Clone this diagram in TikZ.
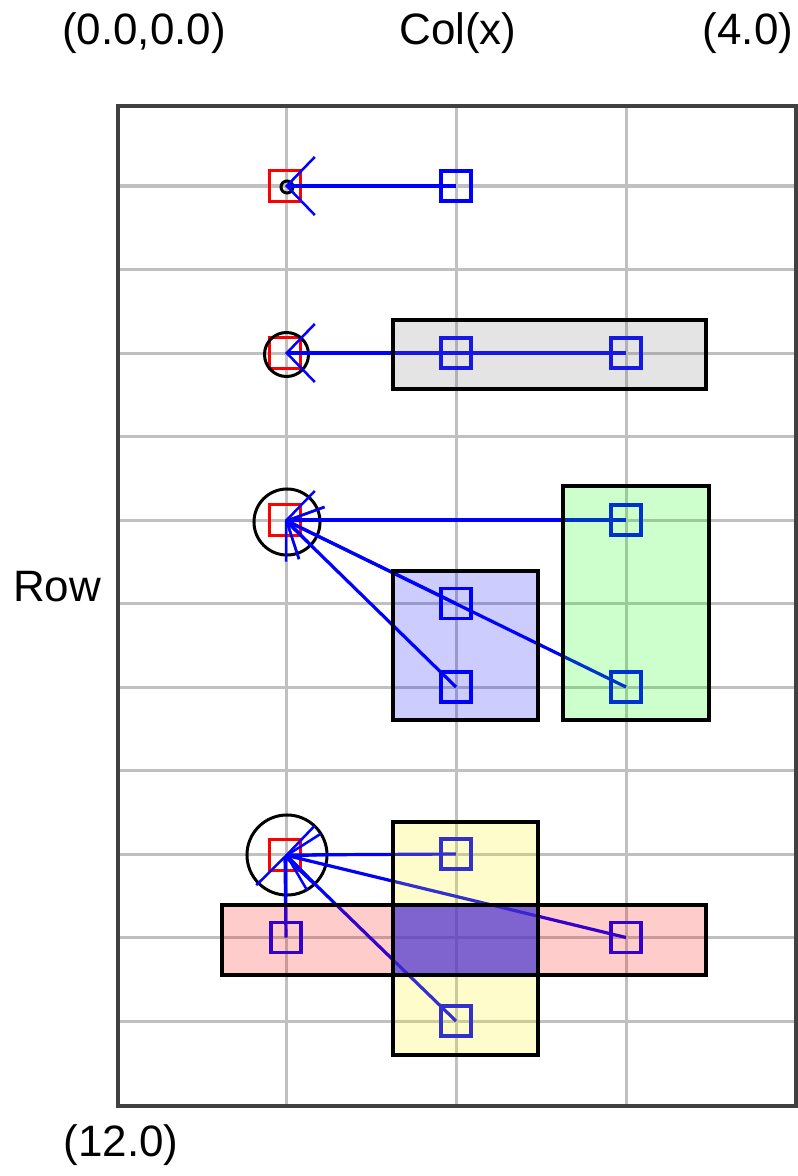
\documentclass[tikz,border=0pt]{standalone}
\usepackage{fontspec}
\setmainfont{Liberation Sans}
\usetikzlibrary{arrows.meta}
\definecolor{gridc}{RGB}{192,192,192}
\definecolor{framec}{RGB}{64,64,64}
\definecolor{grayfill}{RGB}{120,120,120}
\definecolor{purplefill}{RGB}{43,34,238}
\begin{document}
\begin{tikzpicture}[x=0.01cm,y=-0.01cm,
  gridline/.style={draw=gridc, line width=0.03cm},
  frameline/.style={draw=framec, line width=0.04cm},
  bsq/.style={draw=blue, line width=0.033cm, minimum size=0.30cm, inner sep=0pt, shape=rectangle},
  rsq/.style={draw=red, line width=0.033cm, minimum size=0.31cm, inner sep=0pt, shape=rectangle},
  link/.style={draw=blue, line width=0.032cm, -{Straight Barb[length=0.28cm,width=0.58cm,line width=0.025cm]}},
  rng/.style={draw=black, line width=0.03cm, shape=circle, inner sep=0pt, minimum size=#1},
  area/.style={fill=#1, fill opacity=0.2},
  areaborder/.style={draw=black, line width=0.042cm},
  lbl/.style={inner sep=0pt, font=\fontsize{12.5}{15}\selectfont}]
\useasboundingbox (0,0) rectangle (797,1176);
\fill[white] (0,0) rectangle (797,1176);
% grid
\foreach \x in {286,456,626} \draw[gridline] (\x,106) -- (\x,1106);
\foreach \k in {0,...,10} \draw[gridline] (118,186+83.5*\k) -- (796,186+83.5*\k);
\draw[frameline] (118,106) rectangle (796,1106);
% labels
\node[lbl] (t1) at (144,33) {(0.0,0.0)};
\node[lbl] (t2) at (458,33) {Col(x)};
\node[lbl] (t3) at (748,33) {(4.0)};
\node[lbl] (t4) at (57,587) {Row};
\node[lbl] (t5) at (121,1145) {(12.0)};
% red squares (targets)
\node[rsq] (r1) at (285,186) {};
\node[rsq] (r2) at (285,353) {};
\node[rsq] (r3) at (285,520) {};
\node[rsq] (r4) at (285,855) {};
% range circles
\node[rng=0.12cm] (c1) at (287,187) {};
\node[rng=0.44cm] (c2) at (286.5,354.5) {};
\node[rng=0.66cm] (c3) at (287,522) {};
\node[rng=0.80cm] (c4) at (287,855) {};
% blue squares
\node[bsq] (b11) at (456,186) {};
\node[bsq] (b21) at (456,353) {};
\node[bsq] (b22) at (626,353) {};
\node[bsq] (b31) at (626,520) {};
\node[bsq] (b32) at (456,603.5) {};
\node[bsq] (b33) at (456,687) {};
\node[bsq] (b34) at (626,687) {};
\node[bsq] (b41) at (456,854) {};
\node[bsq] (b42) at (626,937.5) {};
\node[bsq] (b43) at (456,1021) {};
\node[bsq] (b44) at (286,937.5) {};
% links
\draw[link] (b11.center) -- (r1.center);
\draw[link] (b22.center) -- (r2.center);
\draw[link] (b31.center) -- (r3.center);
\draw[link] (b32.center) -- (r3.center);
\draw[link] (b33.center) -- (r3.center);
\draw[link] (b34.center) -- (r3.center);
\draw[link] (b41.center) -- (r4.center);
\draw[link] (b42.center) -- (r4.center);
\draw[link] (b43.center) -- (r4.center);
\draw[link] (b44.center) -- (r4.center);
% area fills (translucent)
\fill[area=grayfill] (393,320) rectangle (706,389);
\fill[area=green] (563,486) rectangle (709,720);
\fill[area=blue] (393,571) rectangle (538,720);
\fill[area=yellow] (393,822) rectangle (538,1055);
\fill[area=red] (222,905) rectangle (706,975);
\fill[fill=purplefill, fill opacity=0.6] (393,905) rectangle (538,975);
% area borders
\draw[areaborder] (393,320) rectangle (706,389);
\draw[areaborder] (563,486) rectangle (709,720);
\draw[areaborder] (393,571) rectangle (538,720);
\draw[areaborder] (393,822) rectangle (538,1055);
\draw[areaborder] (222,905) rectangle (706,975);
\end{tikzpicture}
\end{document}
